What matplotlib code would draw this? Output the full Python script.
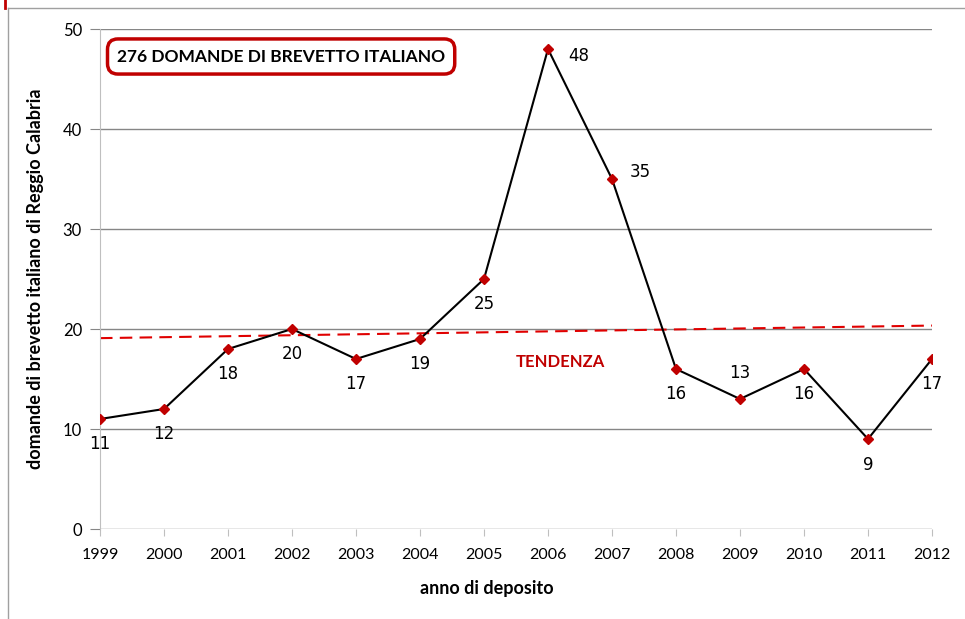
import matplotlib.pyplot as plt
import numpy as np

# dati
anni = [1999, 2000, 2001, 2002, 2003, 2004, 2005, 2006, 2007, 2008, 2009, 2010, 2011, 2012]
domande = [11, 12, 18, 20, 17, 19, 25, 48, 35, 16, 13, 16, 9, 17]
# posizione etichette: (dx, dy) in punti
offset = [(0, -18), (0, -18), (0, -18), (0, -18), (0, -18), (0, -18), (0, -18),
          (22, -5), (20, 5), (0, -18), (0, 19), (0, -18), (0, -19), (0, -18)]

rosso = '#C00000'
fig = plt.figure(figsize=(9.65, 6.19), dpi=100)
ax = fig.add_axes([100 / 965, 90 / 619, 832 / 965, 500 / 619])

# linea di tendenza (regressione lineare, come in Excel)
coef = np.polyfit(anni, domande, 1)
tend = np.polyval(coef, anni)
ax.plot(anni, tend, color='#E00000', linestyle=(0, (6, 3.5)), linewidth=1.5, zorder=2)

ax.plot(anni, domande, color='black', linewidth=1.5, marker='D', markersize=5,
        markerfacecolor=rosso, markeredgecolor=rosso, zorder=3)

for x, y, (dx, dy) in zip(anni, domande, offset):
    ax.annotate(str(y), (x, y), xytext=(dx, dy), textcoords='offset points',
                ha='center', va='center', fontsize=12, family='DejaVu Sans', color='black')

ax.text(2006.2, 16.7, 'TENDENZA', color=rosso, fontsize=12, fontweight='bold',
        family='Lato', ha='center', va='center')

ax.text(2001.83, 47.25, '276 DOMANDE DI BREVETTO ITALIANO', fontsize=12.5, fontweight='bold',
        family='Lato', ha='center', va='center',
        bbox=dict(boxstyle='round,pad=0.55,rounding_size=0.6', facecolor='white',
                  edgecolor=rosso, linewidth=2.5))

ax.set_xlim(1999, 2012)
ax.set_ylim(0, 50)
ax.set_yticks(range(0, 51, 10))
ax.set_xticks(anni)
ax.set_xticklabels([str(a) for a in anni])
ax.yaxis.grid(True, color='#868686', linewidth=1)
ax.set_axisbelow(True)
for s in ['top', 'right', 'bottom']:
    ax.spines[s].set_visible(False)
ax.spines['left'].set_color('#BFBFBF')
ax.tick_params(axis='y', length=7, color='#868686', labelsize=12, pad=6)
ax.tick_params(axis='x', length=5, color='#BFBFBF', labelsize=11.5, pad=9)
for lab in ax.get_xticklabels() + ax.get_yticklabels():
    lab.set_family('Lato')

ax.set_xlabel('anno di deposito', fontsize=13, fontweight='bold', family='Lato')
ax.xaxis.set_label_coords((487 - 100) / 832, -51 / 500)
ax.set_ylabel('domande di brevetto italiano di Reggio Calabria', fontsize=13,
              fontweight='bold', family='Lato')
ax.yaxis.set_label_coords(-56 / 832, 0.5)

# cornice
fig.add_artist(plt.Line2D([8 / 965, 1], [1 - 8 / 619, 1 - 8 / 619], color='#A0A0A0', linewidth=1))
fig.add_artist(plt.Line2D([8 / 965, 8 / 965], [0, 1 - 8 / 619], color='#A0A0A0', linewidth=1))
fig.add_artist(plt.Line2D([5 / 965, 5 / 965], [1 - 8 / 619, 1], color=rosso, linewidth=2))

fig.savefig('out.png', dpi=100)
